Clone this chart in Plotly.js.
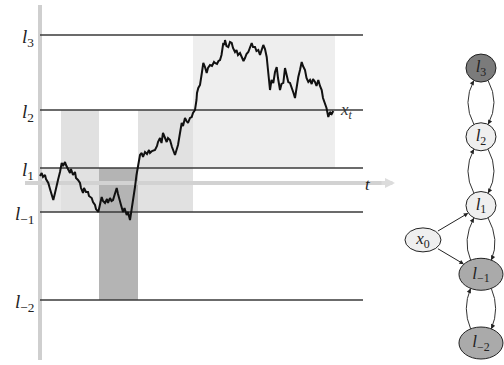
<!DOCTYPE html>
<html>
<head>
<meta charset="utf-8">
<script src="https://cdn.plot.ly/plotly-3.0.1.min.js"></script>
<style>html,body{margin:0;padding:0;background:#fff;}#chart{width:504px;height:365px;}</style>
</head>
<body>
<div id="chart"></div>
<script>
// ---------------- DATA ----------------
const levelNames  = ['l3', 'l2', 'l1', 'l-1', 'l-2'];
const levelLabels = ['<i>l</i><sub>3</sub>', '<i>l</i><sub>2</sub>', '<i>l</i><sub>1</sub>', '<i>l</i><sub>\u22121</sub>', '<i>l</i><sub>\u22122</sub>'];
const levelValues = [148, 73, 15, -29, -117];

// shaded time windows: [start, end] and the two levels bounding them
const bandStart  = [0, 21, 59, 98, 153];
const bandEnd    = [21, 59, 98, 153, 295];
const bandTop    = ['l1', 'l2', 'l1', 'l2', 'l3'];
const bandBottom = ['l-1', 'l-1', 'l-2', 'l-1', 'l1'];

// sample path x_t
const pathT = [0,1.7,3,5,6,8.3,10,12,13.3,15,16.7,18,20,21.7,23,25,26,28,30,31,33,35,36,38,40,41,43,44,46,48,49,51.7,53,55,56,58.3,
  60,61.7,63,65,67,68,70,71.5,73,75,76.7,78,80,81,83,84.5,86.7,88,90,91.7,93,95,96.5,98.3,100,101.7,103,105,107,109,110,112,115,117,118,
  120,121.5,123,125,126.7,128,130,132,133.5,135,136.5,138,140,141.7,143,145,146.5,148,150,151.7,153,155,156.5,157,158.3,160,162,163.3,165,
  166.7,168,170,172,174,175,177,178.5,180,181.5,183.3,184.5,185,186.5,188.3,190,191.7,193,195,196.5,198,200,202,203.5,205,206.5,208.3,210,
  211.7,213,215,216.5,218.3,220,221.5,223.3,225,226.7,228,230,231.5,233.3,235,236.7,238,240,241.5,243.3,245,246.5,248.3,250,251.7,253.5,
  255,256.5,258.3,260,261.7,263,265,266.5,268.3,270,271.7,273,275,276.5,278.3,280,281.7,283,285,286.5,288.3,290,291.7,293.3];
const pathX = [7,10,6,8,4,0,-6,-12,-17,-10,-4,3,11,20,17,21,18,13,10,14,8,11,5,3,0,-5,-10,-5,-9,-9,-13,-15,-19,-22,-26,-29,
  -20,-14,-18,-20,-16,-20,-15,-18,-17,-11,-5,-11,-17,-22,-29,-25,-32,-29,-37,-27,-16,-4,8,20,28,30,26,31,29,33,30,32,33,37,41,
  45,40,50,44,41,45,43,36,31,28,33,38,50,60,57,65,62,60,65,66,70,73,83,90,95,98,111,120,116,
  110,115,118,117,121,120,119,122,123,128,140,138,143,137,136,141,140,135,131,133,128,130,126,122,125,129,131,136,
  140,136,136,132,133,128,133,138,134,126,113,93,103,100,111,116,105,93,99,100,115,107,101,100,96,90,
  85,97,106,113,121,117,113,105,101,103,99,104,101,97,103,97,93,85,80,75,66,71,69,72];

// state graph
const nodeNames  = ['l3', 'l2', 'l1', 'l-1', 'l-2', 'x0'];
const nodeLabels = ['<i>l</i><sub>3</sub>', '<i>l</i><sub>2</sub>', '<i>l</i><sub>1</sub>', '<i>l</i><sub>\u22121</sub>', '<i>l</i><sub>\u22122</sub>', '<i>x</i><sub>0</sub>'];
const nodeRank   = [4, 3, 2, 1, 0, 1.5];
const nodeColumn = [1, 1, 1, 1, 1, 0];
const startEdgesTo = ['l1', 'l-1'];

// ---------------- STYLE ----------------
const W = 504, H = 365;
const bandFill = ['#e9e9e9', '#e1e1e1', '#b4b4b4', '#e1e1e1', '#eeeeee'];
const levelLineEnd = 323;
const nodeFill = {'l3': '#7b7b7b', 'l2': '#efefef', 'l1': '#efefef', 'l-1': '#aaaaaa', 'l-2': '#aaaaaa', 'x0': '#efefef'};
const nodeR = {'l3': [15, 14], 'l2': [15, 14], 'l1': [15, 14], 'l-1': [22, 16], 'l-2': [22, 16], 'x0': [18, 12]};
const serif = 'Liberation Serif, DejaVu Serif, serif';

const xRange = [-40, 464], yRange = [-182, 183];
const x2Range = [-7.293, 1.397], y2Range = [-0.32, 4.99];
const pxPerX2 = W / (x2Range[1] - x2Range[0]);
const pxPerY2 = H / (y2Range[1] - y2Range[0]);

const lv = name => levelValues[levelNames.indexOf(name)];

const shapes = [];
// shaded windows
bandStart.forEach((s, i) => {
  shapes.push({type: 'rect', xref: 'x', yref: 'y', layer: 'below', x0: s, x1: bandEnd[i],
    y0: lv(bandBottom[i]), y1: lv(bandTop[i]), fillcolor: bandFill[i], line: {width: 0}});
});
// axes (light gray)
shapes.push({type: 'line', xref: 'x', yref: 'y', layer: 'below', x0: 0, x1: 0, y0: -177, y1: 178, line: {color: '#cfcfcf', width: 4}});
shapes.push({type: 'line', xref: 'x', yref: 'y', layer: 'below', x0: -15, x1: 348, y0: 0, y1: 0, line: {color: '#d2d2d2', width: 4}});
// level lines
levelValues.forEach(v => {
  shapes.push({type: 'line', xref: 'x', yref: 'y', layer: 'below', x0: 0, x1: levelLineEnd, y0: v, y1: v, line: {color: '#3a3a3a', width: 1.4}});
});

const annotations = [];
levelLabels.forEach((lab, i) => {
  annotations.push({xref: 'x', yref: 'y', x: -4, y: levelValues[i], xanchor: 'right', yanchor: 'middle', yshift: -3,
    text: lab, showarrow: false, font: {family: serif, size: 19, color: '#222'}});
});
annotations.push({xref: 'x', yref: 'y', x: 306, y: 72, xanchor: 'center', yanchor: 'middle', text: '<i>x</i><sub><i>t</i></sub>',
  showarrow: false, font: {family: serif, size: 17, color: '#333'}});
annotations.push({xref: 'x', yref: 'y', x: 328, y: -1, xanchor: 'center', yanchor: 'middle', text: '<i>t</i>',
  showarrow: false, font: {family: serif, size: 17, color: '#222'}});
// axis arrow tip
annotations.push({xref: 'x', yref: 'y', axref: 'x', ayref: 'y', x: 355, y: 0, ax: 340, ay: 0, text: '', showarrow: true,
  arrowhead: 2, arrowsize: 0.5, arrowwidth: 4, arrowcolor: '#dcdcdc'});

// ----- graph helpers -----
const node = name => {
  const i = nodeNames.indexOf(name);
  return {c: nodeColumn[i], r: nodeRank[i], rx: nodeR[name][0], ry: nodeR[name][1]};
};
const toData = (n, px, py) => [n.c + px / pxPerX2, n.r + py / pxPerY2];
const ellipsePt = (n, ang) => [n.rx * Math.cos(ang), n.ry * Math.sin(ang)];

// nodes
nodeNames.forEach(name => {
  const n = node(name);
  shapes.push({type: 'circle', xref: 'x2', yref: 'y2', layer: 'below', xsizemode: 'pixel', ysizemode: 'pixel',
    xanchor: n.c, yanchor: n.r, x0: -n.rx, x1: n.rx, y0: -n.ry, y1: n.ry,
    fillcolor: nodeFill[name], line: {color: '#222', width: 1}});
});

// chain arcs between consecutive levels
const deg = Math.PI / 180;
for (let i = 0; i < levelNames.length - 1; i++) {
  const up = node(levelNames[i]), lo = node(levelNames[i + 1]);
  [-1, 1].forEach(side => {
    // side -1: left arc, lower -> upper ; side 1: right arc, upper -> lower
    const aLo = side < 0 ? 118 * deg : 62 * deg;
    const aUp = side < 0 ? 242 * deg : 298 * deg;
    const pLo = ellipsePt(lo, aLo), pUp = ellipsePt(up, aUp);
    const dLo = toData(lo, pLo[0], pLo[1]);
    const dUp = toData(up, pUp[0], pUp[1]);
    // control point, in px offsets from the lower node
    const gapPx = (up.r - lo.r) * pxPerY2;
    const ctrl = toData(lo, side * 19, gapPx / 2);
    shapes.push({type: 'path', xref: 'x2', yref: 'y2', layer: 'below',
      path: `M ${dLo[0]} ${dLo[1]} Q ${ctrl[0]} ${ctrl[1]} ${dUp[0]} ${dUp[1]}`, line: {color: '#333', width: 1}});
    const end = side < 0 ? dUp : dLo;
    // back-off point along tangent
    const vx = (ctrl[0] - end[0]) * pxPerX2, vy = (ctrl[1] - end[1]) * pxPerY2;
    const len = Math.hypot(vx, vy);
    const back = [end[0] + vx / len * 6 / pxPerX2, end[1] + vy / len * 6 / pxPerY2];
    annotations.push({xref: 'x2', yref: 'y2', axref: 'x2', ayref: 'y2', x: end[0], y: end[1], ax: back[0], ay: back[1],
      text: '', showarrow: true, arrowhead: 2, arrowsize: 0.9, arrowwidth: 1, arrowcolor: '#222'});
  });
}
// start edges
const s0 = node('x0');
startEdgesTo.forEach(name => {
  const t = node(name);
  const dx = (t.c - s0.c) * pxPerX2, dy = (t.r - s0.r) * pxPerY2;
  const k0 = 1 / Math.hypot(dx / s0.rx, dy / s0.ry), k1 = 1 / Math.hypot(dx / t.rx, dy / t.ry);
  const a = toData(s0, dx * k0, dy * k0), b = toData(t, -dx * k1, -dy * k1);
  annotations.push({xref: 'x2', yref: 'y2', axref: 'x2', ayref: 'y2', x: b[0], y: b[1], ax: a[0], ay: a[1],
    text: '', showarrow: true, arrowhead: 2, arrowsize: 0.9, arrowwidth: 1, arrowcolor: '#222'});
});

const traces = [
  {type: 'scatter', mode: 'lines', x: pathT, y: pathX, xaxis: 'x', yaxis: 'y',
    line: {color: '#111', width: 2}, hoverinfo: 'skip'},
  {type: 'scatter', mode: 'text', x: nodeColumn, y: nodeRank, text: nodeLabels, xaxis: 'x2', yaxis: 'y2',
    textposition: 'middle center', textfont: {family: serif, size: 17, color: '#222'}, hoverinfo: 'skip'}
];

const layout = {
  width: W, height: H, margin: {l: 0, r: 0, t: 0, b: 0, pad: 0},
  paper_bgcolor: '#fff', plot_bgcolor: 'rgba(0,0,0,0)', showlegend: false,
  xaxis: {domain: [0, 1], range: xRange, visible: false, fixedrange: true},
  yaxis: {domain: [0, 1], range: yRange, visible: false, fixedrange: true},
  xaxis2: {domain: [0, 1], range: x2Range, visible: false, anchor: 'y2', overlaying: 'x', fixedrange: true},
  yaxis2: {domain: [0, 1], range: y2Range, visible: false, anchor: 'x2', overlaying: 'y', fixedrange: true},
  shapes: shapes, annotations: annotations
};

Plotly.newPlot('chart', traces, layout, {displayModeBar: false, staticPlot: true});
</script>
</body>
</html>
